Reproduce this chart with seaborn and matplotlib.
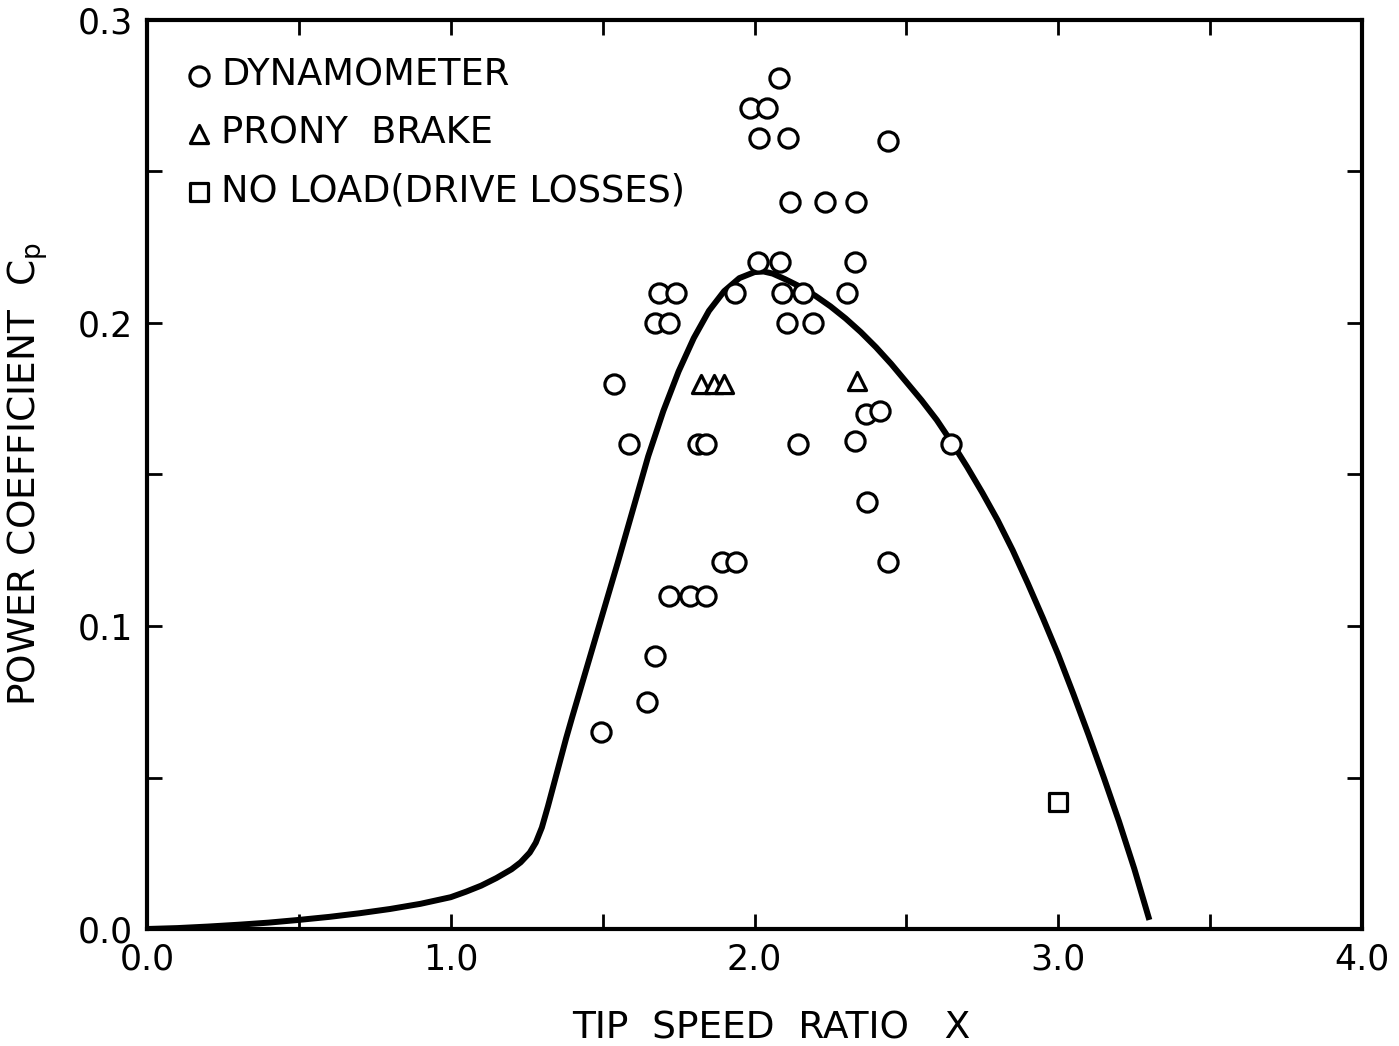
import numpy as np
import pandas as pd
import matplotlib
matplotlib.use("Agg")
import matplotlib.pyplot as plt
import seaborn as sns
from matplotlib.ticker import MultipleLocator, FixedLocator

# ---- data ----
dyn_x = [2.08, 1.985, 2.04, 2.015, 2.11, 2.44, 2.117, 2.232, 2.334,
         2.01, 2.084, 2.33, 1.686, 1.742, 1.936, 2.09, 2.16, 2.305,
         1.672, 1.718, 2.107, 2.193, 1.537, 1.587, 1.814, 1.84, 2.143,
         2.33, 2.367, 2.413, 2.647, 2.37, 2.44, 1.893, 1.94,
         1.718, 1.788, 1.84, 1.672, 1.646, 1.495]
dyn_y = [0.281, 0.271, 0.271, 0.261, 0.261, 0.260, 0.240, 0.240, 0.240,
         0.220, 0.220, 0.220, 0.210, 0.210, 0.210, 0.210, 0.210, 0.210,
         0.200, 0.200, 0.200, 0.200, 0.180, 0.160, 0.160, 0.160, 0.160,
         0.161, 0.170, 0.171, 0.160, 0.141, 0.121, 0.121, 0.121,
         0.110, 0.110, 0.110, 0.090, 0.075, 0.065]

prony_x = [1.824, 1.867, 1.900, 2.337]
prony_y = [0.180, 0.180, 0.180, 0.181]

noload_x = [3.00]
noload_y = [0.042]

curve_x = [0.0, 0.1, 0.2, 0.3, 0.4, 0.5, 0.6, 0.7, 0.8, 0.9, 1.0, 1.05, 1.1,
           1.15, 1.2, 1.23, 1.26, 1.28, 1.30, 1.32, 1.34, 1.36, 1.38, 1.40,
           1.45, 1.50, 1.55, 1.60, 1.65, 1.70, 1.75, 1.80, 1.85, 1.90, 1.95,
           2.00, 2.03, 2.06, 2.10, 2.15, 2.20, 2.25, 2.30, 2.35, 2.40, 2.45,
           2.50, 2.55, 2.60, 2.65, 2.70, 2.75, 2.80, 2.85, 2.90, 2.95, 3.00,
           3.05, 3.10, 3.15, 3.20, 3.25, 3.30]
curve_y = [0.0, 0.0003, 0.0008, 0.0014, 0.0021, 0.0030, 0.0040, 0.0052,
           0.0066, 0.0083, 0.0105, 0.0123, 0.0143, 0.0168, 0.0197, 0.0220,
           0.0252, 0.0285, 0.0335, 0.0405, 0.0480, 0.0555, 0.0630, 0.0700,
           0.0870, 0.1040, 0.1210, 0.1385, 0.1560, 0.1710, 0.1840, 0.1950,
           0.2040, 0.2105, 0.2148, 0.2168, 0.2170, 0.2163, 0.2145, 0.2120,
           0.2090, 0.2055, 0.2015, 0.1970, 0.1920, 0.1865, 0.1805, 0.1745,
           0.1680, 0.1605, 0.1525, 0.1440, 0.1350, 0.1250, 0.1140, 0.1025,
           0.0905, 0.0775, 0.0640, 0.0500, 0.0355, 0.0200, 0.0030]

labels = ["DYNAMOMETER", "PRONY  BRAKE", "NO LOAD(DRIVE LOSSES)"]
x_ticks = [0.0, 1.0, 2.0, 3.0, 4.0]
y_ticks = [0.0, 0.1, 0.2, 0.3]

sns.set_theme(style="ticks")
plt.rcParams["font.family"] = ["DejaVu Sans"]

fig = plt.figure(figsize=(13.99, 10.46), dpi=100)
ax = fig.add_axes([147/1399, 1-929/1046, 1215/1399, 909/1046])

sns.lineplot(x=curve_x, y=curve_y, ax=ax, color="black", linewidth=4.3,
             sort=False, estimator=None, solid_capstyle="butt",
             solid_joinstyle="round")

mk = dict(facecolor="white", edgecolor="black", linewidth=2.3)
sns.scatterplot(x=dyn_x, y=dyn_y, ax=ax, marker="o", s=190, label=labels[0], zorder=3, **mk)
sns.scatterplot(x=prony_x, y=prony_y, ax=ax, marker="^", s=170, label=labels[1], zorder=3, **mk)
sns.scatterplot(x=noload_x, y=noload_y, ax=ax, marker="s", s=150, label=labels[2], zorder=3, **mk)

ax.set_xlim(0, 4.0)
ax.set_ylim(0, 0.3)
ax.xaxis.set_major_locator(FixedLocator(x_ticks))
ax.yaxis.set_major_locator(FixedLocator(y_ticks))
ax.xaxis.set_minor_locator(MultipleLocator(0.5))
ax.yaxis.set_minor_locator(MultipleLocator(0.05))
ax.set_xticklabels([f"{v:.1f}" for v in x_ticks])
ax.set_yticklabels([f"{v:.1f}" for v in y_ticks])

for side in ["left", "right", "top", "bottom"]:
    ax.spines[side].set_visible(True)
    ax.spines[side].set_linewidth(3)
    ax.spines[side].set_color("black")

ax.tick_params(which="both", direction="in", length=11, width=2, top=True, right=True,
               color="black")
ax.tick_params(which="major", labelsize=25, pad=10, labelcolor="black")

ax.set_xlabel("TIP  SPEED  RATIO   X", fontsize=27, color="black")
ax.xaxis.set_label_coords(0.514, -0.09)
ax.set_ylabel(r"POWER COEFFICIENT  C$_\mathregular{p}$", fontsize=27, color="black")
ax.yaxis.set_label_coords(-0.08, 0.5)

leg = ax.legend(loc="upper left", bbox_to_anchor=(0.017, 0.976), frameon=False,
                fontsize=26.5, handletextpad=0.15, labelspacing=0.57, handlelength=0.9,
                borderaxespad=0.0)
for t in leg.get_texts():
    t.set_color("black")

fig.savefig("out.png", dpi=100, facecolor="white")
